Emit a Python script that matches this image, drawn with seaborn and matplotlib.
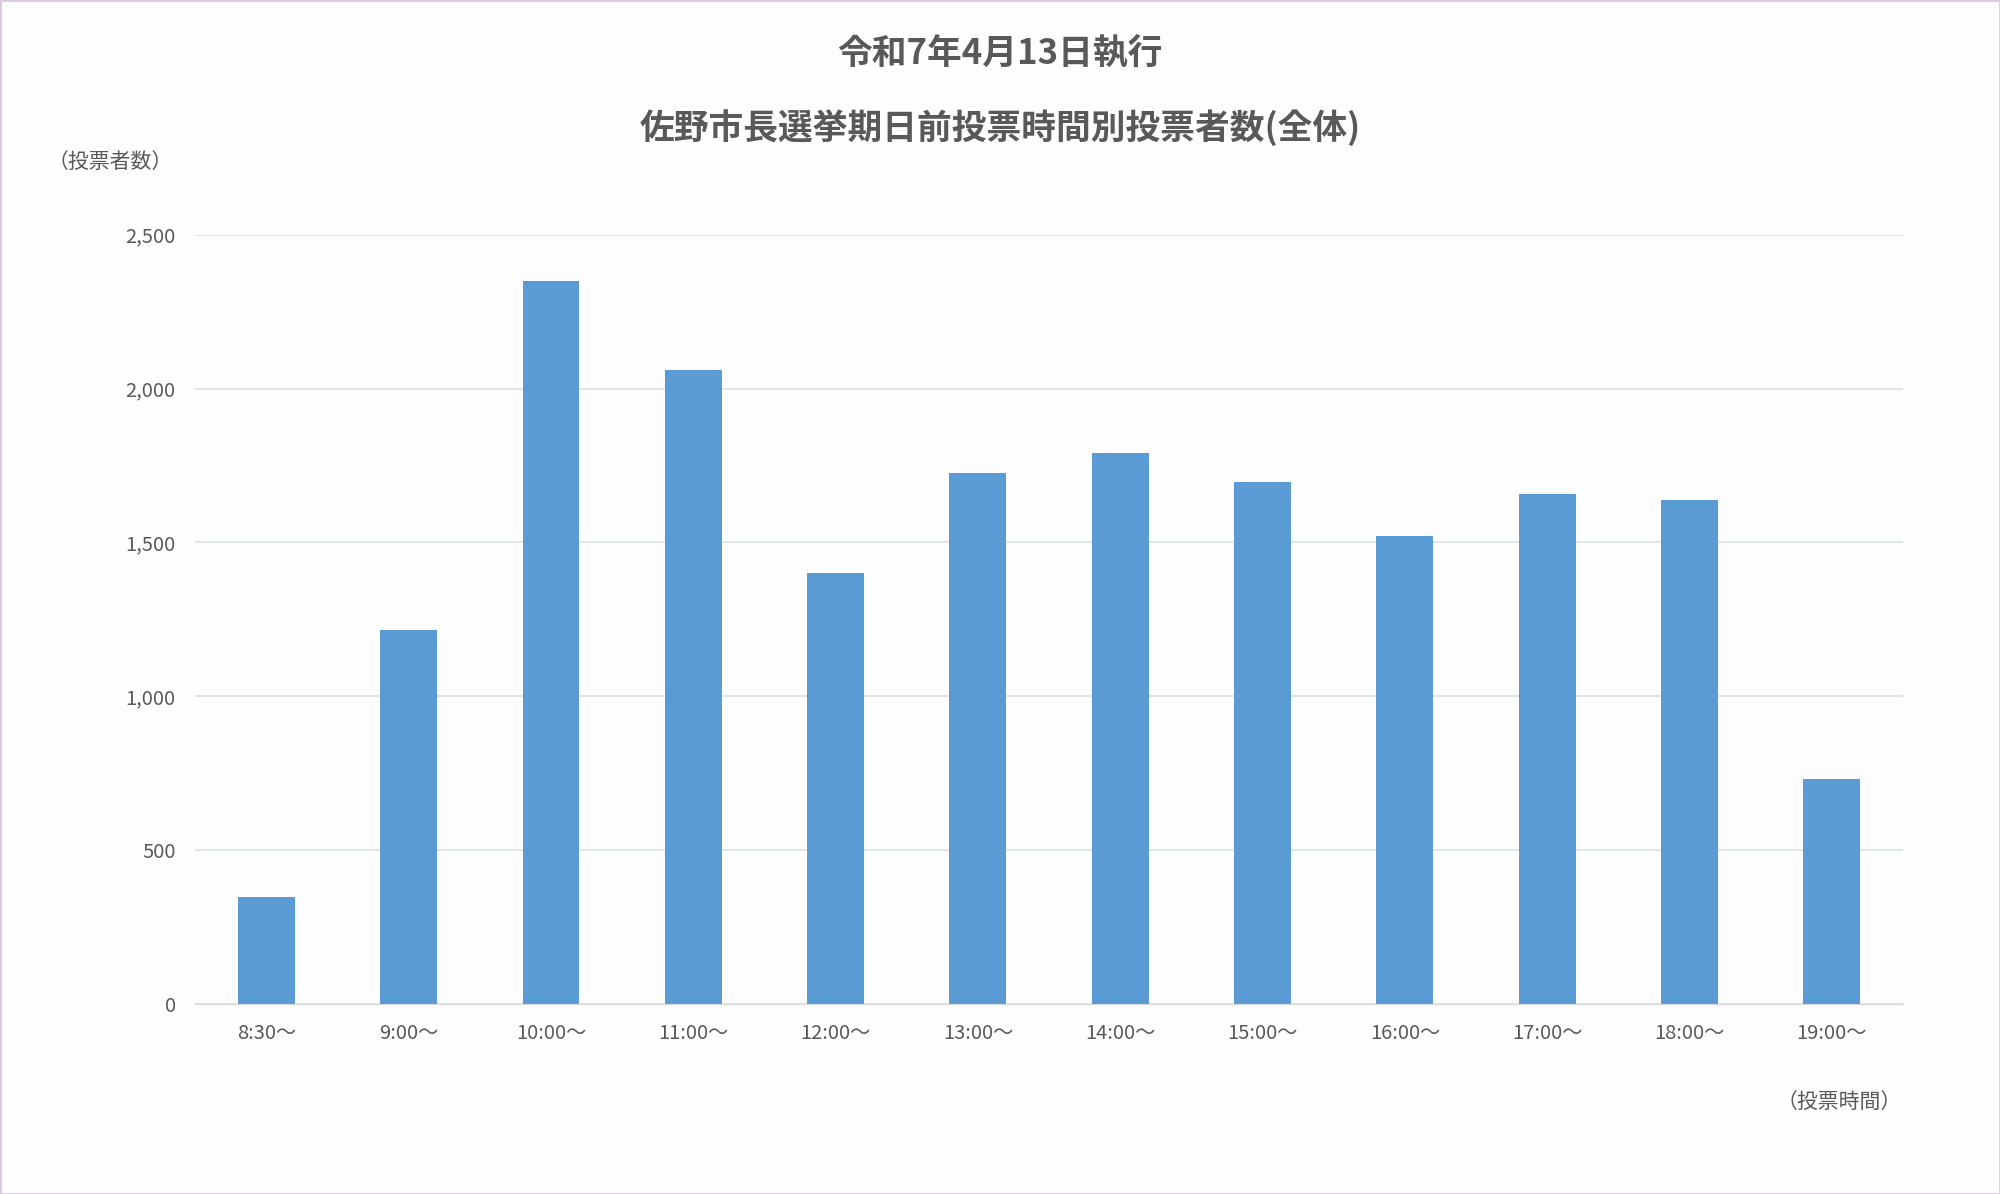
import matplotlib
matplotlib.use('AGG')
import matplotlib.pyplot as plt
import seaborn as sns
import pandas as pd

time_labels = ["8:30～", "9:00～", "10:00～", "11:00～", "12:00～", "13:00～",
               "14:00～", "15:00～", "16:00～", "17:00～", "18:00～", "19:00～"]
voters = [348, 1215, 2351, 2061, 1401, 1725, 1791, 1696, 1522, 1658, 1638, 730]
y_ticks = [0, 500, 1000, 1500, 2000, 2500]

plt.rcParams["font.family"] = "Noto Sans CJK JP"
df = pd.DataFrame({"time": time_labels, "voters": voters})

fig = plt.figure(figsize=[20, 11.94], dpi=100, facecolor="#fdfdfd")
ax = fig.add_axes([0.0976, 0.1592, 0.8539, 0.6442])
ax.set_facecolor("#fdfdfd")
sns.barplot(data=df, x="time", y="voters", color="#5b9bd5", width=0.4, ax=ax, saturation=1)

ax.set_ylim(0, 2500)
ax.set_yticks(y_ticks)
ax.set_yticklabels([f"{v:,}" for v in y_ticks])
ax.grid(axis="y", color="#d9e2e2", linewidth=1.2)
ax.set_axisbelow(True)
for s in ["top", "right", "left"]:
    ax.spines[s].set_visible(False)
ax.spines["bottom"].set_color("#d9d9d9")
ax.tick_params(length=0, labelsize=14.5, colors="#595959", pad=14)
ax.set_xlabel("")
ax.set_ylabel("")

fig.text(0.5, 0.955, "令和7年4月13日執行", ha="center", va="center",
         fontsize=25, fontweight="bold", color="#595959")
fig.text(0.5, 0.893, "佐野市長選挙期日前投票時間別投票者数(全体)", ha="center", va="center",
         fontsize=25, fontweight="bold", color="#595959")
fig.text(0.024, 0.864, "（投票者数）", ha="left", va="center", fontsize=15, color="#595959")
fig.text(0.951, 0.077, "（投票時間）", ha="right", va="center", fontsize=15, color="#595959")

fig.patches.append(plt.Rectangle((0, 0), 1, 1, transform=fig.transFigure,
                                 fill=False, edgecolor="#d8c8e0", linewidth=2))
plt.savefig("out.png", facecolor=fig.get_facecolor())
